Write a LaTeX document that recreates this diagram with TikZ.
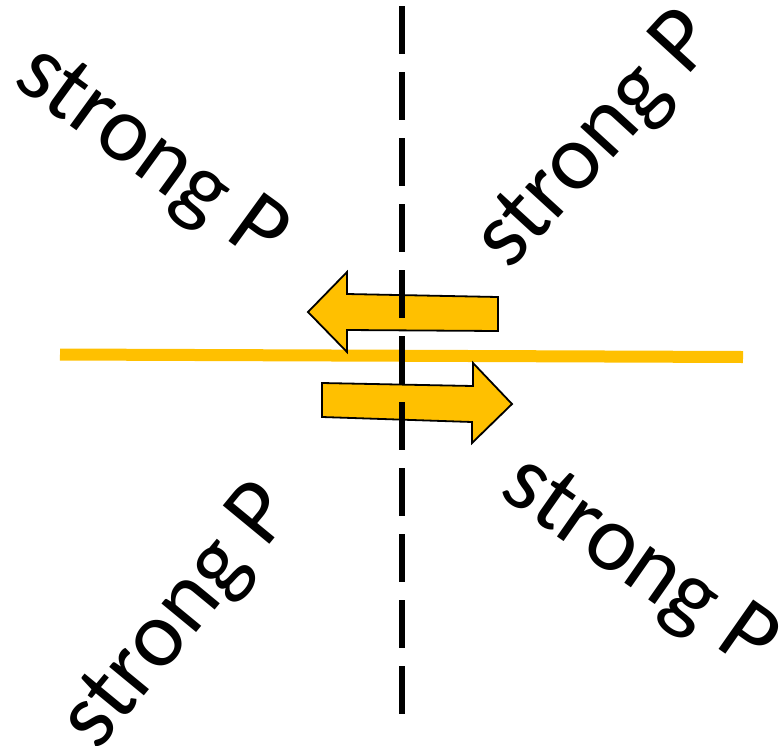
\documentclass[tikz,border=0pt]{standalone}
\usepackage{fontspec}
\setmainfont{Carlito}
\definecolor{gold}{HTML}{FFC000}
\begin{document}
\begin{tikzpicture}[x=1pt,y=-1pt,
  lbl/.style={inner sep=0pt,anchor=center,font=\fontsize{94}{100}\selectfont},
  goldline/.style={draw=gold,line width=12pt},
  arrowshape/.style={draw=black,fill=gold,line width=1.8pt,line join=miter},
  divider/.style={draw=black,line width=6pt,dash pattern=on 48pt off 18pt}]
\useasboundingbox (0,0) rectangle (782,745);
% yellow horizontal line
\coordinate (hl) at (60,354.5);
\coordinate (hr) at (743,357);
\draw[goldline] (hl) -- (hr);
% left-pointing arrow
\draw[arrowshape] (308,312) -- (347,272) -- (347,294) -- (498,297) -- (498,331) -- (347,330) -- (347,352) -- cycle;
% right-pointing arrow
\draw[arrowshape] (322,383) -- (473,386) -- (473,363) -- (512,404) -- (472,443) -- (472,422) -- (322,417) -- cycle;
% dashed vertical line
\coordinate (vt) at (402,6);
\coordinate (vb) at (402,714);
\draw[divider] (vt) -- (vb);
% labels
\node[lbl,rotate=-36] (tl) at (150,157) {strong P};
\node[lbl,rotate=47.5] (tr) at (598,142) {strong P};
\node[lbl,rotate=50.5] (bl) at (180,618) {strong P};
\node[lbl,rotate=-35] (br) at (638,566) {strong P};
\end{tikzpicture}
\end{document}
